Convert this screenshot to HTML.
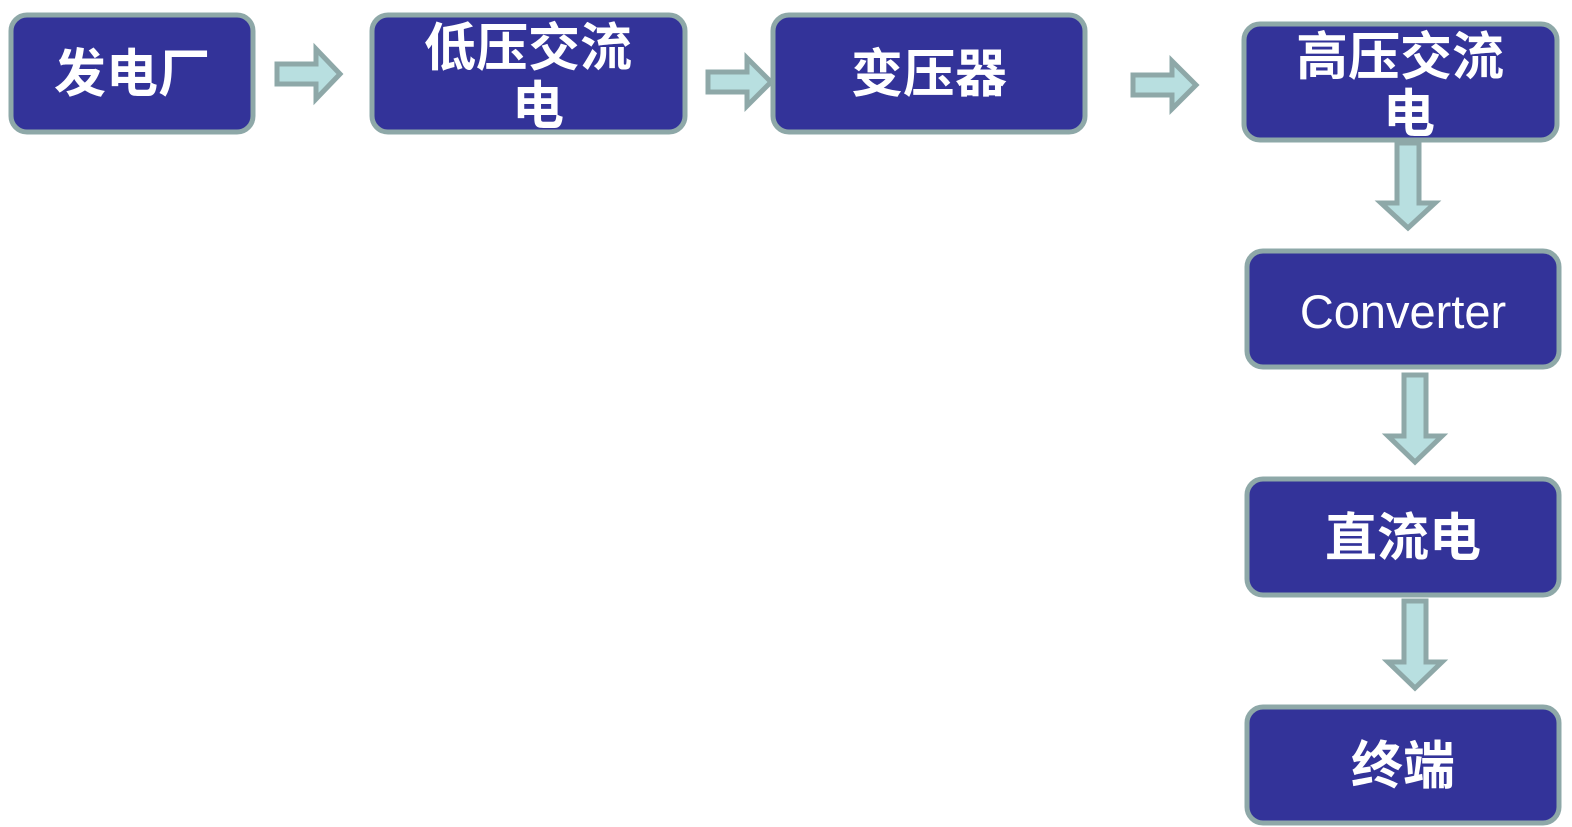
<!DOCTYPE html>
<html><head><meta charset="utf-8"><style>
html,body{margin:0;padding:0;background:#fff;width:1572px;height:827px;overflow:hidden}
svg{display:block}
text{fill:#fff;text-anchor:middle;font-family:"Liberation Sans","Noto Sans CJK SC",sans-serif}
.c{font-weight:bold;font-size:52px}
</style></head><body>
<svg width="1572" height="827" xmlns="http://www.w3.org/2000/svg">
<g fill="#333399" stroke="#8ea8a8" stroke-width="5">
<rect x="11" y="15" width="242" height="117" rx="16"/>
<rect x="372" y="15" width="313" height="117" rx="16"/>
<rect x="773" y="15" width="312" height="117" rx="16"/>
<rect x="1244" y="24" width="313" height="116" rx="16"/>
<rect x="1247" y="251" width="312" height="116" rx="16"/>
<rect x="1247" y="479" width="312" height="116" rx="16"/>
<rect x="1247" y="707" width="312" height="116" rx="16"/>
</g>
<g fill="#b8dfe0" stroke="#8ea8a8" stroke-width="5" stroke-linejoin="miter">
<polygon points="277,64 316,64 316,49 340,74 316,99 316,84 277,84"/>
<polygon points="708,72 747,72 747,58 771,82 747,106 747,92 708,92"/>
<polygon points="1133,75 1172,75 1172,61 1196,85 1172,109 1172,95 1133,95"/>
<polygon points="1397,143 1419,143 1419,203 1435,203 1408,228 1381,203 1397,203"/>
<polygon points="1404,375 1426,375 1426,436 1442,436 1415,462 1388,436 1404,436"/>
<polygon points="1404,601 1426,601 1426,662 1442,662 1415,688 1388,662 1404,662"/>
</g>
<text class="c" x="132" y="92">发电厂</text>
<text class="c" x="528" y="66">低压交流</text>
<text class="c" x="538" y="124">电</text>
<text class="c" x="929" y="92">变压器</text>
<text class="c" x="1400" y="75">高压交流</text>
<text class="c" x="1409" y="132">电</text>
<text x="1403" y="328" font-size="47">Converter</text>
<text class="c" x="1403" y="556">直流电</text>
<text class="c" x="1403" y="784">终端</text>
</svg>
</body></html>
